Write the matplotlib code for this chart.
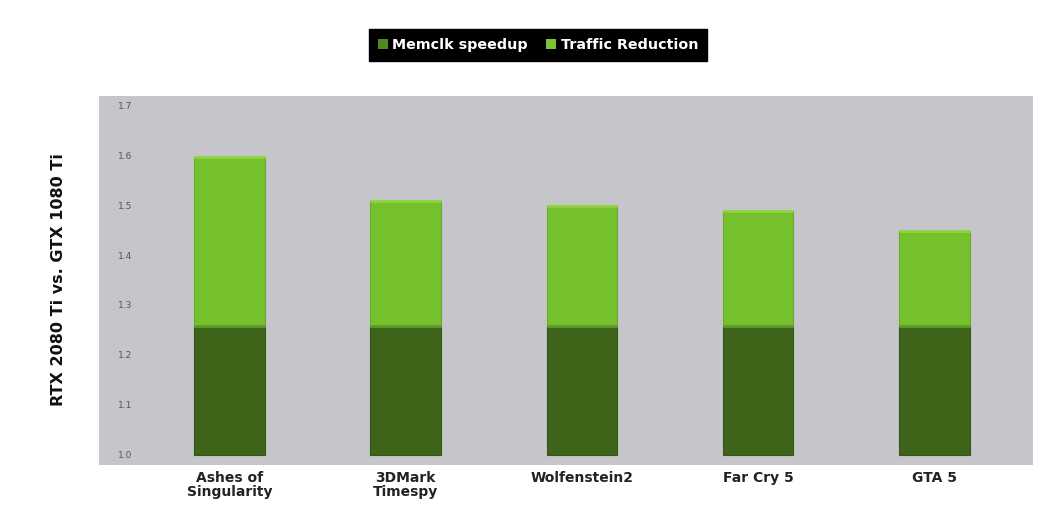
import matplotlib
matplotlib.use("Agg")
import matplotlib.pyplot as plt
from matplotlib.patches import Patch
import matplotlib.transforms as mtransforms

categories = ["Ashes of\nSingularity", "3DMark\nTimespy", "Wolfenstein2", "Far Cry 5", "GTA 5"]
memclk_speedup = [1.26, 1.26, 1.26, 1.26, 1.26]
total = [1.60, 1.51, 1.50, 1.49, 1.45]
traffic_reduction = [t - m for t, m in zip(total, memclk_speedup)]
yticks = [1.0, 1.1, 1.2, 1.3, 1.4, 1.5, 1.6, 1.7]

dark = "#3e6419"
light = "#74c02d"

fig = plt.figure(figsize=(10.62, 5.14), dpi=100)
fig.patch.set_facecolor("white")
ax = fig.add_axes([99/1062, 1-465/514, 934/1062, 369/514])
ax.set_facecolor("#c6c5c9")

x = list(range(len(categories)))
base = 1.0
ax.bar(x, [m - base for m in memclk_speedup], bottom=base, width=0.40,
       color=dark, edgecolor="#34551a", linewidth=0.8, zorder=3)
ax.bar(x, traffic_reduction, bottom=memclk_speedup, width=0.40,
       color=light, edgecolor="#6aab2b", linewidth=0.8, zorder=3)
for xi, t, m in zip(x, total, memclk_speedup):
    ax.plot([xi - 0.2, xi + 0.2], [t, t], color="#8fd43e", lw=2, zorder=4, solid_capstyle="butt")
    ax.plot([xi - 0.2, xi + 0.2], [m, m], color="#5f9a2a", lw=2, zorder=4, solid_capstyle="butt")

ax.set_xlim(-0.74, 4.56)
ax.set_ylim(0.98, 1.722)
for s in ax.spines.values():
    s.set_visible(False)
ax.set_yticks([])
ax.set_xticks(x)
ax.set_xticklabels(categories, fontsize=10, fontweight="bold", color="#222222", linespacing=1.0)
ax.tick_params(axis="x", length=0, pad=4)

trans = mtransforms.blended_transform_factory(ax.transAxes, ax.transData)
for v in yticks:
    ax.text(0.020, v, f"{v:.1f}", transform=trans, fontsize=6.5, color="#555555",
            ha="left", va="center")

fig.text(59/1062, 1-280/514, "RTX 2080 Ti vs. GTX 1080 Ti", rotation=90,
         fontsize=11.5, fontweight="bold", color="#111111", ha="center", va="center")

handles = [Patch(facecolor="#4e8a1e"), Patch(facecolor="#7cc332")]
leg = fig.legend(handles, ["Memclk speedup", "Traffic Reduction"], loc="center",
                 bbox_to_anchor=(538/1062, 1-45/514), ncol=2, frameon=True,
                 facecolor="black", edgecolor="black", framealpha=1, fancybox=False,
                 handlelength=0.7, handleheight=0.7, handletextpad=0.3, columnspacing=1.3,
                 borderpad=0.6, prop={"size": 10.3, "weight": "bold"})
for t in leg.get_texts():
    t.set_color("white")

fig.savefig("out.png", dpi=100)
